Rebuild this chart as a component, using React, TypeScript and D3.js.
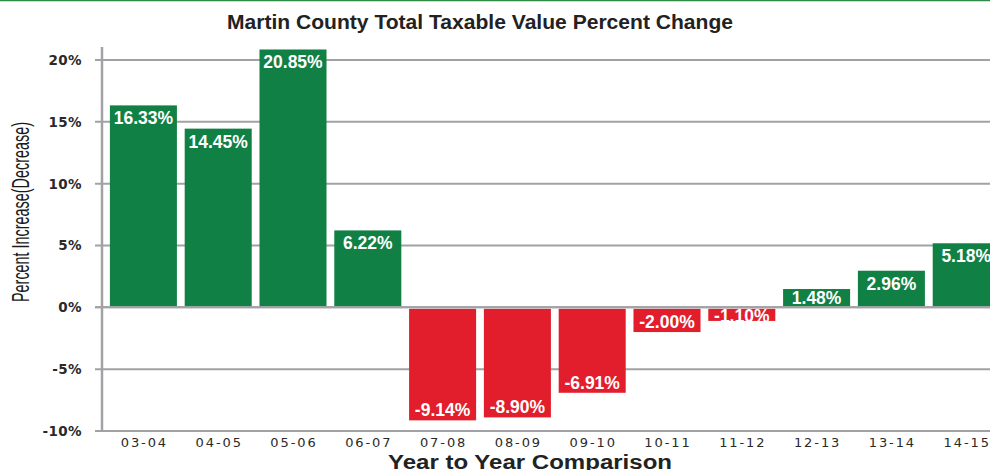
import React from "react";
import * as d3 from "d3";

const categories = ["03-04", "04-05", "05-06", "06-07", "07-08", "08-09", "09-10", "10-11", "11-12", "12-13", "13-14", "14-15"];
const values = [16.33, 14.45, 20.85, 6.22, -9.14, -8.9, -6.91, -2.0, -1.1, 1.48, 2.96, 5.18];
const yTicks = [-10, -5, 0, 5, 10, 15, 20];
const title = "Martin County Total Taxable Value Percent Change";
const xTitle = "Year to Year Comparison";
const yTitle = "Percent Increase(Decrease)";

const W = 990;
const H = 470;
const GREEN = "#108045";
const RED = "#e31e2c";
const GRID = "#a2a2a6";

export default function App() {
  const x = d3
    .scaleBand<string>()
    .domain(categories)
    .range([106, 1003.6])
    .paddingInner(0.104)
    .paddingOuter(0.052);
  const y = d3.scaleLinear().domain([-10, 20]).range([431, 60]);
  const y0 = y(0);

  return (
    <svg
      width={W}
      height={H}
      style={{ position: "absolute", left: 0, top: 0, background: "#fff" }}
      fontFamily="'Liberation Sans', Arial, sans-serif"
    >
      <rect x={0} y={0} width={W} height={H} fill="#fff" />
      <line x1={0} x2={W} y1={0.5} y2={0.5} stroke="#2e8a45" strokeWidth={1.5} />
      <text
        x={480}
        y={29}
        textAnchor="middle"
        fontWeight="bold"
        fontSize={19.5}
        fill="#222"
        textLength={506}
        lengthAdjust="spacingAndGlyphs"
      >
        {title}
      </text>

      {/* gridlines */}
      {yTicks.map((t) => (
        <g key={t}>
          <line x1={95} x2={W} y1={y(t)} y2={y(t)} stroke={GRID} strokeWidth={2} />
          <text
            x={82}
            y={y(t)}
            dy="0.36em"
            textAnchor="end"
            fontFamily="'DejaVu Sans', Verdana, sans-serif"
            fontWeight="bold"
            fontSize={13.5}
            letterSpacing={0.4}
            fill="#2a2a2a"
          >
            {t + "%"}
          </text>
        </g>
      ))}
      <line x1={102} x2={102} y1={47} y2={432} stroke={GRID} strokeWidth={2.5} />

      {/* bars */}
      {categories.map((c, i) => {
        const v = values[i];
        const bx = x(c) as number;
        const bw = x.bandwidth();
        const top = v >= 0 ? y(v) : y0 + 1.5;
        const bottom = v >= 0 ? y0 - 1 : y(v);
        const ly = v >= 0 ? Math.min(top + 19, y0 - 3) : Math.max(bottom - 4, y0 + 15);
        return (
          <g key={c}>
            <rect x={bx} y={top} width={bw} height={bottom - top} fill={v >= 0 ? GREEN : RED} />
            <text
              x={bx + bw / 2}
              y={ly}
              textAnchor="middle"
              fontWeight="bold"
              fontSize={17.5}
              fill="#fff"
            >
              {v.toFixed(2) + "%"}
            </text>
          </g>
        );
      })}
      <line x1={95} x2={W} y1={y0} y2={y0} stroke={GRID} strokeWidth={2} />

      {/* x tick labels */}
      {categories.map((c) => (
        <text
          key={c}
          x={(x(c) as number) + x.bandwidth() / 2 + 1}
          y={447}
          textAnchor="middle"
          fontFamily="'DejaVu Sans', Verdana, sans-serif"
          fontSize={13}
          letterSpacing={1.9}
          fill="#2a2a2a"
        >
          {c}
        </text>
      ))}

      <text
        x={530}
        y={469}
        textAnchor="middle"
        fontWeight="bold"
        fontSize={20}
        fill="#222"
        textLength={284}
        lengthAdjust="spacingAndGlyphs"
      >
        {xTitle}
      </text>

      <text
        transform="translate(29,212) rotate(-90)"
        textAnchor="middle"
        fontFamily="'Liberation Sans Narrow', 'Arial Narrow', 'Liberation Sans', sans-serif"
        fontSize={23}
        fill="#1a1a1a"
        textLength={180}
        lengthAdjust="spacingAndGlyphs"
      >
        {yTitle}
      </text>
    </svg>
  );
}
